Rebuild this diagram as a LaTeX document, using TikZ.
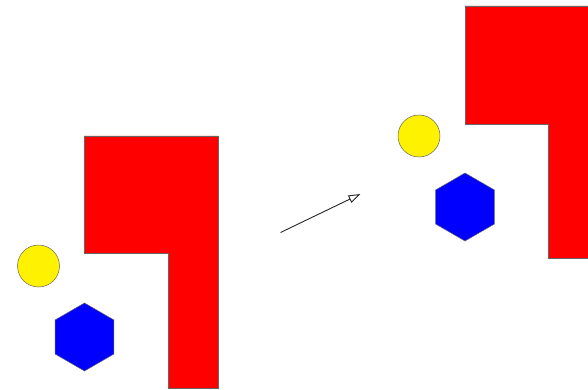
\documentclass[tikz,border=0pt]{standalone}
\usetikzlibrary{shapes.geometric,arrows.meta}
\tikzset{
  wall/.style={fill=red,draw=black!60,line width=0.5pt},
  ball/.style={circle,fill=yellow,draw=black!60,line width=0.5pt,minimum size=42pt,inner sep=0pt},
  hexa/.style={regular polygon,regular polygon sides=6,shape border rotate=30,
               fill=blue,draw=black!60,line width=0.5pt,minimum size=68pt,inner sep=0pt},
}
\begin{document}
\begin{tikzpicture}[x=1pt,y=-1pt]
  \useasboundingbox (0,0) rectangle (588,390);
  % before the move
  \coordinate (A) at (84,136);
  \coordinate (B) at (218,136);
  \coordinate (C) at (218,388);
  \coordinate (D) at (168,388);
  \coordinate (E) at (168,253);
  \coordinate (F) at (84,253);
  \draw[wall] (A) -- (B) -- (C) -- (D) -- (E) -- (F) -- cycle;
  \node[ball] (ball1) at (38.5,266) {};
  \node[hexa] (hexa1) at (84.5,337) {};
  % after the move
  \coordinate (A') at (465,6);
  \coordinate (B') at (590,6);
  \coordinate (C') at (590,258);
  \coordinate (D') at (548,258);
  \coordinate (E') at (548,124);
  \coordinate (F') at (465,124);
  \draw[wall] (A') -- (B') -- (C') -- (D') -- (E') -- (F') -- cycle;
  \node[ball] (ball2) at (419,136) {};
  \node[hexa] (hexa2) at (465,207) {};
  % the move
  \coordinate (P) at (280.5,232.5);
  \coordinate (Q) at (360.5,194);
  \draw[black!85,line width=0.9pt,-{Triangle[open,length=12pt,width=8pt]}] (P) -- (Q);
\end{tikzpicture}
\end{document}
